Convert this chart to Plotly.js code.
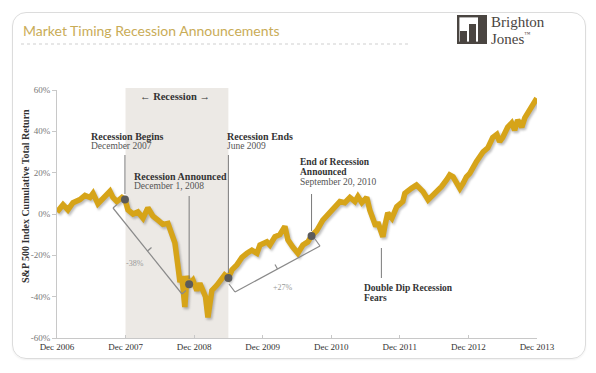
<!DOCTYPE html>
<html>
<head>
<meta charset="utf-8">
<script src="https://cdn.plot.ly/plotly-3.0.1.min.js"></script>
<style>
  html, body { margin:0; padding:0; background:#ffffff; }
  #wrap { position:relative; width:596px; height:373px; overflow:hidden; }
  #card { position:absolute; left:12px; top:12px; width:572px; height:345px;
          border:1px solid #dcdcdc; border-radius:14px; box-shadow:0 1px 2px rgba(0,0,0,0.06); }
  #chart { position:absolute; left:0; top:0; width:596px; height:373px; }
  #logo { position:absolute; left:457px; top:15px; width:100px; height:32px; }
  #logo svg { position:absolute; left:0; top:0; }
  #logo .l1, #logo .l2 { position:absolute; left:34px; font-family:'Liberation Serif','DejaVu Serif',serif;
          color:#4a4541; font-size:15px; line-height:15px; white-space:nowrap; }
  #logo .l1 { top:0px; }
  #logo .l2 { top:12px; }
  #logo .l2 sup { font-size:6px; vertical-align:8px; }
  .scatterlayer .trace:first-child path.js-line { transform: translate(1.5px, 2px); filter: blur(1px); }
</style>
</head>
<body>
<div id="wrap">
  <div id="card"></div>
  <div id="chart"></div>
  <div id="logo">
    <svg width="30" height="29" viewBox="0 0 30 29">
      <rect x="1.2" y="1.2" width="27.6" height="26.6" fill="#ffffff" stroke="#4a4541" stroke-width="2.4"/>
      <rect x="3" y="16" width="7" height="11" fill="#4a4541"/>
      <rect x="12" y="9" width="7" height="18" fill="#4a4541"/>
      <rect x="21" y="2" width="7" height="25" fill="#4a4541"/>
    </svg>
    <div class="l1">Brighton</div>
    <div class="l2">Jones<sup>™</sup></div>
  </div>
</div>
<script>
// ---- data ----
const dates = [
 '2006-12-01','2007-01-02','2007-01-28','2007-02-24','2007-04-02','2007-04-29','2007-05-26','2007-06-11','2007-07-07','2007-08-03','2007-09-09','2007-09-25','2007-10-16','2007-11-12','2007-11-28','2007-12-14',
 '2008-01-10','2008-02-05','2008-03-03','2008-03-29','2008-04-25','2008-05-22','2008-06-17','2008-07-14','2008-08-04','2008-08-20','2008-09-05','2008-09-16','2008-09-26','2008-10-07','2008-10-12','2008-10-23','2008-11-04','2008-11-24','2008-12-15','2008-12-31',
 '2009-01-16','2009-01-30','2009-02-12','2009-02-22','2009-03-05','2009-03-31','2009-04-26','2009-05-12','2009-06-01','2009-06-20','2009-07-17','2009-08-12','2009-09-08','2009-10-04','2009-10-31','2009-11-16','2009-12-23',
 '2010-01-08','2010-02-04','2010-03-02','2010-03-29','2010-04-14','2010-05-10','2010-06-06','2010-07-03','2010-07-29','2010-08-18','2010-09-15','2010-10-17','2010-11-23','2010-12-20',
 '2011-01-16','2011-02-11','2011-03-10','2011-04-06','2011-04-22','2011-05-13','2011-06-08','2011-06-24','2011-07-10','2011-07-26','2011-08-06','2011-08-25','2011-09-02','2011-09-12','2011-09-28','2011-10-20','2011-11-15','2011-12-17','2011-12-28',
 '2012-02-01','2012-02-28','2012-03-17','2012-04-03','2012-04-30','2012-05-18','2012-06-14','2012-07-10','2012-08-06','2012-08-23','2012-09-10','2012-09-28','2012-10-16','2012-11-02','2012-11-20','2012-12-08','2012-12-25',
 '2013-01-12','2013-01-30','2013-02-17','2013-03-14','2013-04-09','2013-05-01','2013-05-16','2013-06-01','2013-06-28','2013-07-19','2013-08-04','2013-08-20','2013-09-11','2013-09-27','2013-10-13','2013-11-08','2013-11-30'
];
const returns = [
 1,4.5,2,5.5,7,9,8,10,5,7.5,11,8,6,8,7,2,
 0,1,-2,3,-1,-3,-5,-4.5,-9,-14,-25,-33,-30,-42,-45,-30,-34,-32,-37,-33.5,
 -38,-40,-50,-42,-37,-34.5,-32,-29.5,-31,-27,-24.5,-21,-19,-17.5,-19,-15,-13.5,
 -15,-11,-10,-6,-12.5,-16,-19,-15,-13.5,-10.6,-8,-3,1,3.5,
 6,5.5,8,6,8.5,5.5,8,2,-3,-6,-4,-9.5,-11,-6,0.5,-2,3.5,6,10,
 12.4,14,12.4,10.8,6.8,8.4,10.8,13.2,16.5,18.9,18,15.6,12.4,14.8,18,19.7,22.9,
 25.3,27.7,30.1,32,37,38.5,35,37,42,44,40.5,45.5,42,46.5,49,52,56
];
const eventDates  = ['2007-11-28','2008-11-04','2009-06-01','2010-08-18'];
const eventValues = [7, -34, -31, -10.6];
const doubleDipDate = '2011-08-25';
const recessionStart = '2007-12-01';
const recessionEnd   = '2009-06-01';
const tickDates  = ['2006-12-01','2007-12-01','2008-12-01','2009-12-01','2010-12-01','2011-12-01','2012-12-01','2013-12-01'];
const tickLabels = ['Dec 2006','Dec 2007','Dec 2008','Dec 2009','Dec 2010','Dec 2011','Dec 2012','Dec 2013'];
const yTicks     = [-60,-40,-20,0,20,40,60];
const yTickText  = ['-60%','-40%','-20%','0%','20%','40%','60%'];

// ---- layout helpers (pixel -> paper) ----
const L=57, R=537, T=90, B=338;
const px = x => (x-L)/(R-L);
const py = y => (B-y)/(B-T);
const SERIF = 'Liberation Serif, DejaVu Serif, serif';

const gold = '#D6A419';
const traces = [
  {x:dates, y:returns, type:'scatter', mode:'lines', hoverinfo:'skip',
   line:{color:'rgba(70,70,70,0.35)', width:5.5, shape:'linear'}},
  {x:dates, y:returns, type:'scatter', mode:'lines', hoverinfo:'skip',
   line:{color:gold, width:5.5, shape:'linear'}},
  {x:eventDates, y:eventValues, type:'scatter', mode:'markers', hoverinfo:'skip',
   marker:{color:'#5b5b5b', size:8, line:{width:0}}}
];

// text annotation lines: [text, xpx, ypx, bold, size, color, xanchor]
const textLines = [
  ['← Recession →', 175, 96, true, 10.5, '#333', 'center'],
  ['Recession Begins', 90, 136, true, 10, '#333', 'left'],
  ['December 2007', 90, 146, false, 9.5, '#555', 'left'],
  ['Recession Announced', 133, 176, true, 10, '#333', 'left'],
  ['December 1, 2008', 133, 186, false, 9.5, '#555', 'left'],
  ['Recession Ends', 226, 136, true, 10, '#333', 'left'],
  ['June 2009', 226, 146, false, 9.5, '#555', 'left'],
  ['End of Recession', 299, 162, true, 9.5, '#333', 'left'],
  ['Announced', 299, 172, true, 9.5, '#333', 'left'],
  ['September 20, 2010', 299, 182, false, 9.5, '#555', 'left'],
  ['Double Dip Recession', 363, 287.5, true, 9.5, '#333', 'left'],
  ['Fears', 363, 297.5, true, 9.5, '#333', 'left'],
  ['-38%', 135, 263, false, 8, '#999', 'center'],
  ['+27%', 283, 287, false, 8, '#999', 'center']
];
const annotations = textLines.map(a => ({
  xref:'paper', yref:'paper', x:px(a[1]), y:py(a[2]), xanchor:a[6], yanchor:'middle',
  showarrow:false, borderpad:0, text: a[3] ? '<b>'+a[0]+'</b>' : a[0],
  font:{family:SERIF, size:a[4], color:a[5]}
}));
annotations.push({xref:'paper', yref:'paper', x:px(25), y:py(196), textangle:-90,
  xanchor:'center', yanchor:'middle', showarrow:false,
  text:'<b>S&P 500 Index Cumulative Total Return</b>', font:{family:SERIF, size:10, color:'#333'}});
annotations.push({xref:'paper', yref:'paper', x:px(21), y:py(30), xanchor:'left', yanchor:'middle',
  showarrow:false, text:'Market Timing Recession Announcements',
  font:{family:'Lato, Open Sans, sans-serif', size:14, color:'#C9AC57'}});

// vertical pointer lines: [date, ytop px, ybottom px]
const pointerLines = [
  [eventDates[0], 155, 194],
  [eventDates[1], 196, 279],
  [eventDates[2], 155, 273],
  [eventDates[3], 194, 231],
  [doubleDipDate, 248, 278]
];
// bracket segments in px: [x0,y0,x1,y1]
const bracketSegs = [
  [117,204.5,113,208],[113,208,182,294],[182,294,186,290.5],[147.5,251,151.5,247.5],
  [229,284,235,292],[235,292,320,246],[320,246,315,239],[277.5,269,275,264.5]
];

const shapes = [
  {type:'rect', xref:'x', yref:'paper', x0:recessionStart, x1:recessionEnd, y0:0, y1:py(88),
   fillcolor:'#ece9e5', line:{width:0}, layer:'below'},
  {type:'line', xref:'paper', yref:'paper', x0:px(21), x1:px(410), y0:py(44), y1:py(44),
   line:{color:'#cfcfcf', width:1, dash:'dot'}}
];
pointerLines.forEach(p => shapes.push({type:'line', xref:'x', yref:'paper', x0:p[0], x1:p[0],
  y0:py(p[1]), y1:py(p[2]), line:{color:'#7a7a7a', width:1}}));
bracketSegs.forEach(s => shapes.push({type:'line', xref:'paper', yref:'paper',
  x0:px(s[0]), y0:py(s[1]), x1:px(s[2]), y1:py(s[3]), line:{color:'#8a8a8a', width:1.2}}));

const layout = {
  width:596, height:373,
  margin:{l:L, r:596-R, t:T, b:373-B},
  paper_bgcolor:'rgba(0,0,0,0)', plot_bgcolor:'rgba(0,0,0,0)',
  showlegend:false,
  xaxis:{type:'date', range:['2006-12-01','2013-12-01'], tickmode:'array', tickvals:tickDates, ticktext:tickLabels,
         showgrid:false, zeroline:false, showline:true, linecolor:'#c8c8c8', linewidth:1,
         ticks:'inside', ticklen:3, tickcolor:'#c8c8c8',
         tickfont:{family:SERIF, size:9, color:'#333'}, fixedrange:true},
  yaxis:{range:[-60,60], tickmode:'array', tickvals:yTicks, ticktext:yTickText,
         showgrid:false, zeroline:false, showline:true, linecolor:'#c8c8c8', linewidth:1,
         ticks:'outside', ticklen:4, tickcolor:'#c8c8c8',
         tickfont:{family:SERIF, size:9, color:'#777'}, fixedrange:true},
  annotations:annotations,
  shapes:shapes
};
Plotly.newPlot('chart', traces, layout, {displayModeBar:false, staticPlot:true});
</script>
</body>
</html>
